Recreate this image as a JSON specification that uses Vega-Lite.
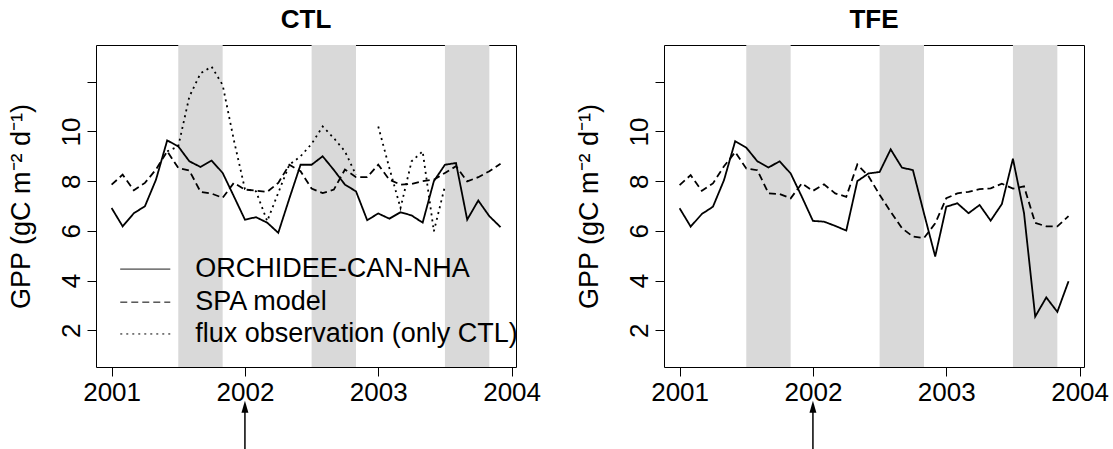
{
  "$schema": "https://vega.github.io/schema/vega-lite/v6.json",
  "padding": {"left": 6, "top": 6, "right": 3, "bottom": 0},
  "background": "white",
  "config": {
    "font": "Liberation Sans",
    "view": {"stroke": "black", "strokeWidth": 1},
    "axis": {"grid": false, "domain": false, "tickColor": "black", "tickSize": 9, "labelFont": "Liberation Sans", "labelFontSize": 26, "labelColor": "black", "titleFont": "Liberation Sans", "titleFontSize": 27, "titleFontWeight": "normal", "titleColor": "black", "labelFlush": false, "labelOverlap": false},
    "title": {"font": "Liberation Sans", "fontSize": 26, "fontWeight": "bold", "color": "black", "offset": 12, "frame": "group"}
  },
  "datasets": {
    "bands": [
      {"start": 2001.5, "end": 2001.833},
      {"start": 2002.5, "end": 2002.833},
      {"start": 2003.5, "end": 2003.833}
    ],
    "arrow": [{"year": 2002}],
    "legend": [
      {"series": "ORCHIDEE-CAN-NHA"},
      {"series": "SPA model"},
      {"series": "flux observation (only CTL)"}
    ],
    "gpp": [
      {"panel":"CTL","series":"ORCHIDEE-CAN-NHA","part":"o","year":2001,"gpp":6.92},
      {"panel":"CTL","series":"ORCHIDEE-CAN-NHA","part":"o","year":2001.083,"gpp":6.18},
      {"panel":"CTL","series":"ORCHIDEE-CAN-NHA","part":"o","year":2001.167,"gpp":6.71},
      {"panel":"CTL","series":"ORCHIDEE-CAN-NHA","part":"o","year":2001.25,"gpp":6.99},
      {"panel":"CTL","series":"ORCHIDEE-CAN-NHA","part":"o","year":2001.333,"gpp":8.06},
      {"panel":"CTL","series":"ORCHIDEE-CAN-NHA","part":"o","year":2001.417,"gpp":9.64},
      {"panel":"CTL","series":"ORCHIDEE-CAN-NHA","part":"o","year":2001.5,"gpp":9.4},
      {"panel":"CTL","series":"ORCHIDEE-CAN-NHA","part":"o","year":2001.583,"gpp":8.8},
      {"panel":"CTL","series":"ORCHIDEE-CAN-NHA","part":"o","year":2001.667,"gpp":8.57},
      {"panel":"CTL","series":"ORCHIDEE-CAN-NHA","part":"o","year":2001.75,"gpp":8.83},
      {"panel":"CTL","series":"ORCHIDEE-CAN-NHA","part":"o","year":2001.833,"gpp":8.33},
      {"panel":"CTL","series":"ORCHIDEE-CAN-NHA","part":"o","year":2001.917,"gpp":7.39},
      {"panel":"CTL","series":"ORCHIDEE-CAN-NHA","part":"o","year":2002,"gpp":6.45},
      {"panel":"CTL","series":"ORCHIDEE-CAN-NHA","part":"o","year":2002.083,"gpp":6.55},
      {"panel":"CTL","series":"ORCHIDEE-CAN-NHA","part":"o","year":2002.167,"gpp":6.33},
      {"panel":"CTL","series":"ORCHIDEE-CAN-NHA","part":"o","year":2002.25,"gpp":5.92},
      {"panel":"CTL","series":"ORCHIDEE-CAN-NHA","part":"o","year":2002.333,"gpp":7.3},
      {"panel":"CTL","series":"ORCHIDEE-CAN-NHA","part":"o","year":2002.417,"gpp":8.66},
      {"panel":"CTL","series":"ORCHIDEE-CAN-NHA","part":"o","year":2002.5,"gpp":8.66},
      {"panel":"CTL","series":"ORCHIDEE-CAN-NHA","part":"o","year":2002.583,"gpp":9.0},
      {"panel":"CTL","series":"ORCHIDEE-CAN-NHA","part":"o","year":2002.667,"gpp":8.45},
      {"panel":"CTL","series":"ORCHIDEE-CAN-NHA","part":"o","year":2002.75,"gpp":7.86},
      {"panel":"CTL","series":"ORCHIDEE-CAN-NHA","part":"o","year":2002.833,"gpp":7.59},
      {"panel":"CTL","series":"ORCHIDEE-CAN-NHA","part":"o","year":2002.917,"gpp":6.43},
      {"panel":"CTL","series":"ORCHIDEE-CAN-NHA","part":"o","year":2003,"gpp":6.7},
      {"panel":"CTL","series":"ORCHIDEE-CAN-NHA","part":"o","year":2003.083,"gpp":6.49},
      {"panel":"CTL","series":"ORCHIDEE-CAN-NHA","part":"o","year":2003.167,"gpp":6.75},
      {"panel":"CTL","series":"ORCHIDEE-CAN-NHA","part":"o","year":2003.25,"gpp":6.62},
      {"panel":"CTL","series":"ORCHIDEE-CAN-NHA","part":"o","year":2003.333,"gpp":6.33},
      {"panel":"CTL","series":"ORCHIDEE-CAN-NHA","part":"o","year":2003.417,"gpp":8.0},
      {"panel":"CTL","series":"ORCHIDEE-CAN-NHA","part":"o","year":2003.5,"gpp":8.66},
      {"panel":"CTL","series":"ORCHIDEE-CAN-NHA","part":"o","year":2003.583,"gpp":8.73},
      {"panel":"CTL","series":"ORCHIDEE-CAN-NHA","part":"o","year":2003.667,"gpp":6.45},
      {"panel":"CTL","series":"ORCHIDEE-CAN-NHA","part":"o","year":2003.75,"gpp":7.22},
      {"panel":"CTL","series":"ORCHIDEE-CAN-NHA","part":"o","year":2003.833,"gpp":6.59},
      {"panel":"CTL","series":"ORCHIDEE-CAN-NHA","part":"o","year":2003.917,"gpp":6.15},

      {"panel":"CTL","series":"SPA model","part":"s","year":2001,"gpp":7.86},
      {"panel":"CTL","series":"SPA model","part":"s","year":2001.083,"gpp":8.26},
      {"panel":"CTL","series":"SPA model","part":"s","year":2001.167,"gpp":7.63},
      {"panel":"CTL","series":"SPA model","part":"s","year":2001.25,"gpp":7.93},
      {"panel":"CTL","series":"SPA model","part":"s","year":2001.333,"gpp":8.47},
      {"panel":"CTL","series":"SPA model","part":"s","year":2001.417,"gpp":9.2},
      {"panel":"CTL","series":"SPA model","part":"s","year":2001.5,"gpp":8.53},
      {"panel":"CTL","series":"SPA model","part":"s","year":2001.583,"gpp":8.43},
      {"panel":"CTL","series":"SPA model","part":"s","year":2001.667,"gpp":7.57},
      {"panel":"CTL","series":"SPA model","part":"s","year":2001.75,"gpp":7.5},
      {"panel":"CTL","series":"SPA model","part":"s","year":2001.833,"gpp":7.33},
      {"panel":"CTL","series":"SPA model","part":"s","year":2001.917,"gpp":7.93},
      {"panel":"CTL","series":"SPA model","part":"s","year":2002,"gpp":7.66},
      {"panel":"CTL","series":"SPA model","part":"s","year":2002.083,"gpp":7.62},
      {"panel":"CTL","series":"SPA model","part":"s","year":2002.167,"gpp":7.57},
      {"panel":"CTL","series":"SPA model","part":"s","year":2002.25,"gpp":7.93},
      {"panel":"CTL","series":"SPA model","part":"s","year":2002.333,"gpp":8.66},
      {"panel":"CTL","series":"SPA model","part":"s","year":2002.417,"gpp":8.4},
      {"panel":"CTL","series":"SPA model","part":"s","year":2002.5,"gpp":7.7},
      {"panel":"CTL","series":"SPA model","part":"s","year":2002.583,"gpp":7.52},
      {"panel":"CTL","series":"SPA model","part":"s","year":2002.667,"gpp":7.66},
      {"panel":"CTL","series":"SPA model","part":"s","year":2002.75,"gpp":8.47},
      {"panel":"CTL","series":"SPA model","part":"s","year":2002.833,"gpp":8.16},
      {"panel":"CTL","series":"SPA model","part":"s","year":2002.917,"gpp":8.16},
      {"panel":"CTL","series":"SPA model","part":"s","year":2003,"gpp":8.66},
      {"panel":"CTL","series":"SPA model","part":"s","year":2003.083,"gpp":8.06},
      {"panel":"CTL","series":"SPA model","part":"s","year":2003.167,"gpp":7.86},
      {"panel":"CTL","series":"SPA model","part":"s","year":2003.25,"gpp":7.89},
      {"panel":"CTL","series":"SPA model","part":"s","year":2003.333,"gpp":8.0},
      {"panel":"CTL","series":"SPA model","part":"s","year":2003.417,"gpp":8.06},
      {"panel":"CTL","series":"SPA model","part":"s","year":2003.5,"gpp":8.33},
      {"panel":"CTL","series":"SPA model","part":"s","year":2003.583,"gpp":8.6},
      {"panel":"CTL","series":"SPA model","part":"s","year":2003.667,"gpp":7.99},
      {"panel":"CTL","series":"SPA model","part":"s","year":2003.75,"gpp":8.16},
      {"panel":"CTL","series":"SPA model","part":"s","year":2003.833,"gpp":8.4},
      {"panel":"CTL","series":"SPA model","part":"s","year":2003.917,"gpp":8.7},

      {"panel":"CTL","series":"flux observation (only CTL)","part":"f1","year":2001.417,"gpp":9.2},
      {"panel":"CTL","series":"flux observation (only CTL)","part":"f1","year":2001.5,"gpp":9.4},
      {"panel":"CTL","series":"flux observation (only CTL)","part":"f1","year":2001.583,"gpp":11.4},
      {"panel":"CTL","series":"flux observation (only CTL)","part":"f1","year":2001.667,"gpp":12.34},
      {"panel":"CTL","series":"flux observation (only CTL)","part":"f1","year":2001.75,"gpp":12.61},
      {"panel":"CTL","series":"flux observation (only CTL)","part":"f1","year":2001.833,"gpp":11.87},
      {"panel":"CTL","series":"flux observation (only CTL)","part":"f1","year":2001.917,"gpp":9.65},
      {"panel":"CTL","series":"flux observation (only CTL)","part":"f1","year":2002,"gpp":7.68},
      {"panel":"CTL","series":"flux observation (only CTL)","part":"f1","year":2002.083,"gpp":7.59},
      {"panel":"CTL","series":"flux observation (only CTL)","part":"f1","year":2002.167,"gpp":6.39},
      {"panel":"CTL","series":"flux observation (only CTL)","part":"f1","year":2002.25,"gpp":7.53},
      {"panel":"CTL","series":"flux observation (only CTL)","part":"f1","year":2002.333,"gpp":8.66},
      {"panel":"CTL","series":"flux observation (only CTL)","part":"f1","year":2002.417,"gpp":9.0},
      {"panel":"CTL","series":"flux observation (only CTL)","part":"f1","year":2002.5,"gpp":9.5},
      {"panel":"CTL","series":"flux observation (only CTL)","part":"f1","year":2002.583,"gpp":10.2},
      {"panel":"CTL","series":"flux observation (only CTL)","part":"f1","year":2002.667,"gpp":9.73},
      {"panel":"CTL","series":"flux observation (only CTL)","part":"f1","year":2002.75,"gpp":9.2},
      {"panel":"CTL","series":"flux observation (only CTL)","part":"f1","year":2002.833,"gpp":8.25},
      {"panel":"CTL","series":"flux observation (only CTL)","part":"f2","year":2003,"gpp":10.2},
      {"panel":"CTL","series":"flux observation (only CTL)","part":"f2","year":2003.083,"gpp":8.53},
      {"panel":"CTL","series":"flux observation (only CTL)","part":"f2","year":2003.167,"gpp":6.92},
      {"panel":"CTL","series":"flux observation (only CTL)","part":"f2","year":2003.25,"gpp":8.8},
      {"panel":"CTL","series":"flux observation (only CTL)","part":"f2","year":2003.333,"gpp":9.2},
      {"panel":"CTL","series":"flux observation (only CTL)","part":"f2","year":2003.417,"gpp":5.98},
      {"panel":"CTL","series":"flux observation (only CTL)","part":"f2","year":2003.5,"gpp":7.8},

      {"panel":"TFE","series":"ORCHIDEE-CAN-NHA","part":"o","year":2001,"gpp":6.91},
      {"panel":"TFE","series":"ORCHIDEE-CAN-NHA","part":"o","year":2001.083,"gpp":6.17},
      {"panel":"TFE","series":"ORCHIDEE-CAN-NHA","part":"o","year":2001.167,"gpp":6.68},
      {"panel":"TFE","series":"ORCHIDEE-CAN-NHA","part":"o","year":2001.25,"gpp":6.97},
      {"panel":"TFE","series":"ORCHIDEE-CAN-NHA","part":"o","year":2001.333,"gpp":8.04},
      {"panel":"TFE","series":"ORCHIDEE-CAN-NHA","part":"o","year":2001.417,"gpp":9.61},
      {"panel":"TFE","series":"ORCHIDEE-CAN-NHA","part":"o","year":2001.5,"gpp":9.35},
      {"panel":"TFE","series":"ORCHIDEE-CAN-NHA","part":"o","year":2001.583,"gpp":8.8},
      {"panel":"TFE","series":"ORCHIDEE-CAN-NHA","part":"o","year":2001.667,"gpp":8.55},
      {"panel":"TFE","series":"ORCHIDEE-CAN-NHA","part":"o","year":2001.75,"gpp":8.8},
      {"panel":"TFE","series":"ORCHIDEE-CAN-NHA","part":"o","year":2001.833,"gpp":8.31},
      {"panel":"TFE","series":"ORCHIDEE-CAN-NHA","part":"o","year":2001.917,"gpp":7.37},
      {"panel":"TFE","series":"ORCHIDEE-CAN-NHA","part":"o","year":2002,"gpp":6.4},
      {"panel":"TFE","series":"ORCHIDEE-CAN-NHA","part":"o","year":2002.083,"gpp":6.37},
      {"panel":"TFE","series":"ORCHIDEE-CAN-NHA","part":"o","year":2002.167,"gpp":6.2},
      {"panel":"TFE","series":"ORCHIDEE-CAN-NHA","part":"o","year":2002.25,"gpp":6.01},
      {"panel":"TFE","series":"ORCHIDEE-CAN-NHA","part":"o","year":2002.333,"gpp":8.0},
      {"panel":"TFE","series":"ORCHIDEE-CAN-NHA","part":"o","year":2002.417,"gpp":8.31},
      {"panel":"TFE","series":"ORCHIDEE-CAN-NHA","part":"o","year":2002.5,"gpp":8.37},
      {"panel":"TFE","series":"ORCHIDEE-CAN-NHA","part":"o","year":2002.583,"gpp":9.28},
      {"panel":"TFE","series":"ORCHIDEE-CAN-NHA","part":"o","year":2002.667,"gpp":8.55},
      {"panel":"TFE","series":"ORCHIDEE-CAN-NHA","part":"o","year":2002.75,"gpp":8.44},
      {"panel":"TFE","series":"ORCHIDEE-CAN-NHA","part":"o","year":2002.833,"gpp":6.7},
      {"panel":"TFE","series":"ORCHIDEE-CAN-NHA","part":"o","year":2002.917,"gpp":4.97},
      {"panel":"TFE","series":"ORCHIDEE-CAN-NHA","part":"o","year":2003,"gpp":6.97},
      {"panel":"TFE","series":"ORCHIDEE-CAN-NHA","part":"o","year":2003.083,"gpp":7.11},
      {"panel":"TFE","series":"ORCHIDEE-CAN-NHA","part":"o","year":2003.167,"gpp":6.71},
      {"panel":"TFE","series":"ORCHIDEE-CAN-NHA","part":"o","year":2003.25,"gpp":7.04},
      {"panel":"TFE","series":"ORCHIDEE-CAN-NHA","part":"o","year":2003.333,"gpp":6.41},
      {"panel":"TFE","series":"ORCHIDEE-CAN-NHA","part":"o","year":2003.417,"gpp":7.08},
      {"panel":"TFE","series":"ORCHIDEE-CAN-NHA","part":"o","year":2003.5,"gpp":8.9},
      {"panel":"TFE","series":"ORCHIDEE-CAN-NHA","part":"o","year":2003.583,"gpp":6.72},
      {"panel":"TFE","series":"ORCHIDEE-CAN-NHA","part":"o","year":2003.667,"gpp":2.55},
      {"panel":"TFE","series":"ORCHIDEE-CAN-NHA","part":"o","year":2003.75,"gpp":3.32},
      {"panel":"TFE","series":"ORCHIDEE-CAN-NHA","part":"o","year":2003.833,"gpp":2.74},
      {"panel":"TFE","series":"ORCHIDEE-CAN-NHA","part":"o","year":2003.917,"gpp":3.97},

      {"panel":"TFE","series":"SPA model","part":"s","year":2001,"gpp":7.84},
      {"panel":"TFE","series":"SPA model","part":"s","year":2001.083,"gpp":8.24},
      {"panel":"TFE","series":"SPA model","part":"s","year":2001.167,"gpp":7.61},
      {"panel":"TFE","series":"SPA model","part":"s","year":2001.25,"gpp":7.91},
      {"panel":"TFE","series":"SPA model","part":"s","year":2001.333,"gpp":8.6},
      {"panel":"TFE","series":"SPA model","part":"s","year":2001.417,"gpp":9.17},
      {"panel":"TFE","series":"SPA model","part":"s","year":2001.5,"gpp":8.51},
      {"panel":"TFE","series":"SPA model","part":"s","year":2001.583,"gpp":8.44},
      {"panel":"TFE","series":"SPA model","part":"s","year":2001.667,"gpp":7.51},
      {"panel":"TFE","series":"SPA model","part":"s","year":2001.75,"gpp":7.48},
      {"panel":"TFE","series":"SPA model","part":"s","year":2001.833,"gpp":7.31},
      {"panel":"TFE","series":"SPA model","part":"s","year":2001.917,"gpp":7.91},
      {"panel":"TFE","series":"SPA model","part":"s","year":2002,"gpp":7.61},
      {"panel":"TFE","series":"SPA model","part":"s","year":2002.083,"gpp":7.87},
      {"panel":"TFE","series":"SPA model","part":"s","year":2002.167,"gpp":7.51},
      {"panel":"TFE","series":"SPA model","part":"s","year":2002.25,"gpp":7.37},
      {"panel":"TFE","series":"SPA model","part":"s","year":2002.333,"gpp":8.67},
      {"panel":"TFE","series":"SPA model","part":"s","year":2002.417,"gpp":8.2},
      {"panel":"TFE","series":"SPA model","part":"s","year":2002.5,"gpp":7.45},
      {"panel":"TFE","series":"SPA model","part":"s","year":2002.583,"gpp":6.77},
      {"panel":"TFE","series":"SPA model","part":"s","year":2002.667,"gpp":6.11},
      {"panel":"TFE","series":"SPA model","part":"s","year":2002.75,"gpp":5.77},
      {"panel":"TFE","series":"SPA model","part":"s","year":2002.833,"gpp":5.71},
      {"panel":"TFE","series":"SPA model","part":"s","year":2002.917,"gpp":6.3},
      {"panel":"TFE","series":"SPA model","part":"s","year":2003,"gpp":7.31},
      {"panel":"TFE","series":"SPA model","part":"s","year":2003.083,"gpp":7.51},
      {"panel":"TFE","series":"SPA model","part":"s","year":2003.167,"gpp":7.57},
      {"panel":"TFE","series":"SPA model","part":"s","year":2003.25,"gpp":7.68},
      {"panel":"TFE","series":"SPA model","part":"s","year":2003.333,"gpp":7.71},
      {"panel":"TFE","series":"SPA model","part":"s","year":2003.417,"gpp":7.9},
      {"panel":"TFE","series":"SPA model","part":"s","year":2003.5,"gpp":7.7},
      {"panel":"TFE","series":"SPA model","part":"s","year":2003.583,"gpp":7.79},
      {"panel":"TFE","series":"SPA model","part":"s","year":2003.667,"gpp":6.32},
      {"panel":"TFE","series":"SPA model","part":"s","year":2003.75,"gpp":6.18},
      {"panel":"TFE","series":"SPA model","part":"s","year":2003.833,"gpp":6.18},
      {"panel":"TFE","series":"SPA model","part":"s","year":2003.917,"gpp":6.59}
    ]
  },
  "spacing": 148,
  "bounds": "flush",
  "resolve": {"scale": {"strokeDash": "independent"}},
  "hconcat": [
    {
      "width": 420,
      "height": 322,
      "title": {"text": "CTL"},
      "layer": [
        {
          "data": {"name": "bands"},
          "mark": {"type": "rect", "color": "#d9d9d9"},
          "encoding": {
            "x": {"field": "start", "type": "quantitative", "scale": {"domain": [2000.883, 2004.033], "nice": false, "zero": false}, "axis": {"title": null, "values": [2001, 2002, 2003, 2004], "format": "d", "labelPadding": 3}},
            "x2": {"field": "end"}
          }
        },
        {
          "data": {"name": "gpp"},
          "transform": [{"filter": "datum.panel === 'CTL'"}],
          "mark": {"type": "line", "color": "black", "strokeWidth": 1.8},
          "encoding": {
            "x": {"field": "year", "type": "quantitative"},
            "y": {"field": "gpp", "type": "quantitative", "scale": {"domain": [0.52, 13.48], "nice": false, "zero": false}, "axis": {"title": "GPP (gC m⁻² d⁻¹)", "values": [2, 4, 6, 8, 10, 12], "labelAngle": -90, "labelAlign": "center", "labelBaseline": "alphabetic", "labelExpr": "datum.value == 12 ? '' : datum.label", "labelPadding": 8, "titlePadding": 23}},
            "strokeDash": {"field": "series", "type": "nominal", "scale": {"domain": ["ORCHIDEE-CAN-NHA", "SPA model", "flux observation (only CTL)"], "range": [[1, 0], [7, 4], [2, 4]]}, "legend": null},
            "detail": {"field": "part"}
          }
        },
        {
          "data": {"name": "legend"},
          "transform": [{"filter": "datum.series === 'ORCHIDEE-CAN-NHA'"}],
          "encoding": {"y": {"datum": 4.46, "type": "quantitative"}},
          "layer": [
            {"mark": {"type": "rule", "color": "black", "strokeWidth": 1}, "encoding": {"x": {"datum": 2001.065, "type": "quantitative"}, "x2": {"datum": 2001.44}, "strokeDash": {"field": "series", "type": "nominal", "legend": null}}},
            {"mark": {"type": "text", "color": "black", "fontSize": 27, "font": "Liberation Sans", "align": "left", "baseline": "middle"}, "encoding": {"x": {"datum": 2001.627, "type": "quantitative"}, "text": {"field": "series"}}}
          ]
        },
        {
          "data": {"name": "legend"},
          "transform": [{"filter": "datum.series === 'SPA model'"}],
          "encoding": {"y": {"datum": 3.13, "type": "quantitative"}},
          "layer": [
            {"mark": {"type": "rule", "color": "black", "strokeWidth": 1}, "encoding": {"x": {"datum": 2001.065, "type": "quantitative"}, "x2": {"datum": 2001.44}, "strokeDash": {"field": "series", "type": "nominal", "legend": null}}},
            {"mark": {"type": "text", "color": "black", "fontSize": 27, "font": "Liberation Sans", "align": "left", "baseline": "middle"}, "encoding": {"x": {"datum": 2001.627, "type": "quantitative"}, "text": {"field": "series"}}}
          ]
        },
        {
          "data": {"name": "legend"},
          "transform": [{"filter": "datum.series === 'flux observation (only CTL)'"}],
          "encoding": {"y": {"datum": 1.85, "type": "quantitative"}},
          "layer": [
            {"mark": {"type": "rule", "color": "black", "strokeWidth": 1}, "encoding": {"x": {"datum": 2001.065, "type": "quantitative"}, "x2": {"datum": 2001.44}, "strokeDash": {"field": "series", "type": "nominal", "legend": null}}},
            {"mark": {"type": "text", "color": "black", "fontSize": 27, "font": "Liberation Sans", "align": "left", "baseline": "middle"}, "encoding": {"x": {"datum": 2001.627, "type": "quantitative"}, "text": {"field": "series"}}}
          ]
        },
        {
          "data": {"name": "arrow"},
          "mark": {"type": "rule", "color": "black", "strokeWidth": 1.5},
          "encoding": {"x": {"field": "year", "type": "quantitative"}, "y": {"datum": -1.2}, "y2": {"datum": -3}}
        },
        {
          "data": {"name": "arrow"},
          "mark": {"type": "point", "shape": "M0,-1L0.58,1L-0.58,1Z", "size": 144, "filled": true, "color": "black", "opacity": 1},
          "encoding": {"x": {"field": "year", "type": "quantitative"}, "y": {"datum": -1.08}}
        }
      ]
    },
    {
      "width": 420,
      "height": 322,
      "title": {"text": "TFE"},
      "layer": [
        {
          "data": {"name": "bands"},
          "mark": {"type": "rect", "color": "#d9d9d9"},
          "encoding": {
            "x": {"field": "start", "type": "quantitative", "scale": {"domain": [2000.883, 2004.033], "nice": false, "zero": false}, "axis": {"title": null, "values": [2001, 2002, 2003, 2004], "format": "d", "labelPadding": 3}},
            "x2": {"field": "end"}
          }
        },
        {
          "data": {"name": "gpp"},
          "transform": [{"filter": "datum.panel === 'TFE'"}],
          "mark": {"type": "line", "color": "black", "strokeWidth": 1.8},
          "encoding": {
            "x": {"field": "year", "type": "quantitative"},
            "y": {"field": "gpp", "type": "quantitative", "scale": {"domain": [0.52, 13.48], "nice": false, "zero": false}, "axis": {"title": "GPP (gC m⁻² d⁻¹)", "values": [2, 4, 6, 8, 10, 12], "labelAngle": -90, "labelAlign": "center", "labelBaseline": "alphabetic", "labelExpr": "datum.value == 12 ? '' : datum.label", "labelPadding": 8, "titlePadding": 23}},
            "strokeDash": {"field": "series", "type": "nominal", "scale": {"domain": ["ORCHIDEE-CAN-NHA", "SPA model", "flux observation (only CTL)"], "range": [[1, 0], [7, 4], [2, 4]]}, "legend": null},
            "detail": {"field": "part"}
          }
        },
        {
          "data": {"name": "arrow"},
          "mark": {"type": "rule", "color": "black", "strokeWidth": 1.5},
          "encoding": {"x": {"field": "year", "type": "quantitative"}, "y": {"datum": -1.2}, "y2": {"datum": -3}}
        },
        {
          "data": {"name": "arrow"},
          "mark": {"type": "point", "shape": "M0,-1L0.58,1L-0.58,1Z", "size": 144, "filled": true, "color": "black", "opacity": 1},
          "encoding": {"x": {"field": "year", "type": "quantitative"}, "y": {"datum": -1.08}}
        }
      ]
    }
  ]
}
